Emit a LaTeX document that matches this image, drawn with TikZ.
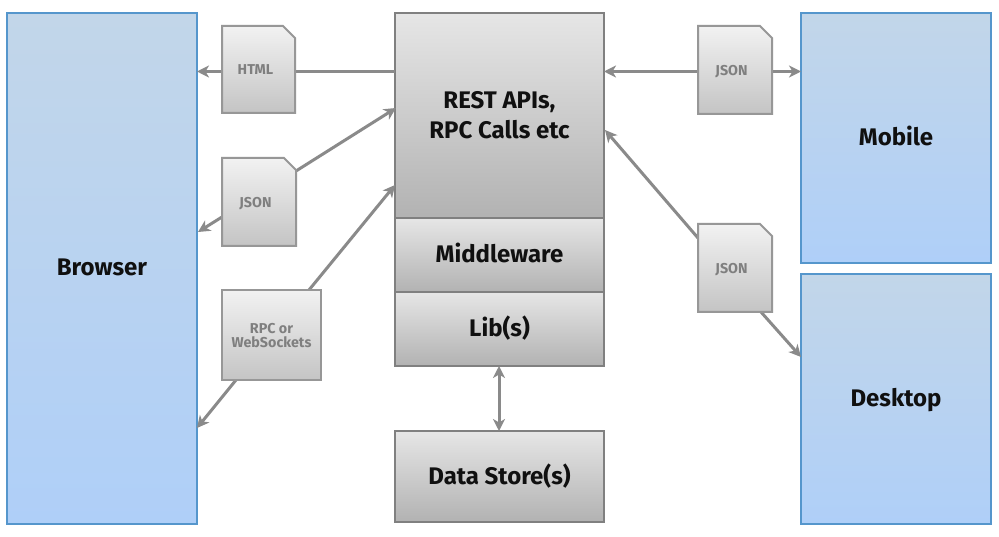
\documentclass[tikz,border=0pt]{standalone}
\usepackage{fontspec}
\setmainfont{Fira Sans}[BoldFont={Fira Sans Bold}]
\usetikzlibrary{arrows.meta}
\definecolor{arrowgray}{HTML}{8A8A8A}
\definecolor{boxedge}{HTML}{808080}
\definecolor{docedge}{HTML}{979797}
\definecolor{blueedge}{HTML}{5596CC}
\definecolor{doctext}{HTML}{7F7F7F}
\definecolor{inktext}{HTML}{101010}
\tikzset{
  panel/.style={rectangle,draw=blueedge,line width=2pt,
    top color={rgb,255:red,194;green,214;blue,233},bottom color={rgb,255:red,175;green,207;blue,248},
    minimum width=#1,inner sep=0pt,outer sep=0pt,font=\fontsize{24}{30}\selectfont\bfseries,text=inktext,align=center},
  tier/.style={rectangle,draw=boxedge,line width=2pt,
    top color={rgb,255:red,230;green,230;blue,230},bottom color={rgb,255:red,178;green,178;blue,178},
    minimum width=209pt,inner sep=0pt,outer sep=0pt,font=\fontsize{24}{30}\selectfont\bfseries,text=inktext,align=center},
  oneline/.style={text height=15pt,text depth=0pt},
  docbase/.style={draw=docedge,line width=2pt,
    top color={rgb,255:red,242;green,242;blue,242},bottom color={rgb,255:red,196;green,196;blue,196},
    inner sep=0pt,outer sep=0pt},
  docanchor/.style={rectangle,inner sep=0pt,outer sep=0pt},
  rpcbox/.style={docbase,rectangle},
  doclabel/.style={font=\fontsize{14.3}{14.5}\selectfont\bfseries,text=doctext,inner sep=0pt,align=center},
  docword/.style={doclabel,text height=10pt,text depth=0pt},
  link/.style={draw=arrowgray,line width=3pt},
  linkhead/.style={link,-{Stealth[length=12pt,width=12pt,inset=3.5pt]}},
  linkboth/.style={link,{Stealth[length=12pt,width=12pt,inset=3.5pt]}-{Stealth[length=12pt,width=12pt,inset=3.5pt]}}
}
\newcommand{\docsheet}[1]{\path[docbase] (#1.north west) -- ([xshift=-12pt]#1.north east) -- ([yshift=-12pt]#1.north east) -- (#1.south east) -- (#1.south west) -- cycle;}
\begin{document}
\begin{tikzpicture}[x=1pt,y=-1pt]
\useasboundingbox (0,0) rectangle (999,537);
\fill[white] (0,0) rectangle (999,537);
% ports on the borders of the panels and tiers
\coordinate (pHtmlB) at (197,71.5);
\coordinate (pHtmlR) at (395,71.5);
\coordinate (pJsonB) at (198,232);
\coordinate (pJsonR) at (396,108);
\coordinate (pJsonA) at (296,171);
\coordinate (pJsonC) at (222,217);
\coordinate (pRpcB) at (197,428);
\coordinate (pRpcR) at (395,185);
\coordinate (pRpcA) at (309,290);
\coordinate (pRpcC) at (236,380);
\coordinate (pMobL) at (604,71.5);
\coordinate (pMobR) at (801,71.5);
\coordinate (pMobC) at (730,71.5);
\coordinate (pDeskL) at (605,130);
\coordinate (pDeskR) at (801,357);
\coordinate (pDeskA) at (698,238);
\coordinate (pDeskC) at (761,312);
\coordinate (pLibS) at (499,366);
\coordinate (pStoreN) at (499,431);
% panels
\node[panel=190pt,oneline,minimum height=511pt] (browser) at (102,268.5) {Browser};
\node[panel=190pt,oneline,minimum height=250pt] (mobile) at (896,138) {Mobile};
\node[panel=190pt,oneline,minimum height=250pt] (desktop) at (896,399) {Desktop};
% tiers
\node[tier,minimum height=205pt] (rest) at (499.5,115.5) {REST APIs,\\RPC Calls etc};
\node[tier,oneline,minimum height=74pt] (middle) at (499.5,255) {Middleware};
\node[tier,oneline,minimum height=74pt] (lib) at (499.5,329) {Lib(s)};
\node[tier,oneline,minimum height=91pt] (store) at (499.5,476.5) {Data Store(s)};
% connectors
\draw[linkhead] (pHtmlR) -- (pHtmlB);
\draw[linkhead] (pJsonA) -- (pJsonR);
\draw[linkhead] (pJsonC) -- (pJsonB);
\draw[linkhead] (pRpcA) -- (pRpcR);
\draw[linkhead] (pRpcC) -- (pRpcB);
\draw[linkhead] (pMobC) -- (pMobL);
\draw[linkhead] (pMobC) -- (pMobR);
\draw[linkhead] (pDeskA) -- (pDeskL);
\draw[linkhead] (pDeskC) -- (pDeskR);
\draw[linkboth] (pLibS) -- (pStoreN);
% documents
\node[docanchor,minimum width=73pt,minimum height=87pt] (dhtml) at (258.5,69.5) {};
\docsheet{dhtml}
\node[docword] (lhtml) at (255.5,70) {HTML};
\node[docanchor,minimum width=74pt,minimum height=88pt] (djson) at (259,202) {};
\docsheet{djson}
\node[docword] (ljson) at (255.5,203) {JSON};
\node[rpcbox,minimum width=99pt,minimum height=90pt] (drpc) at (271.5,335) {};
\node[doclabel] (lrpc) at (271.5,335.5) {RPC or\\WebSockets};
\node[docanchor,minimum width=74pt,minimum height=88pt] (dmob) at (735,70) {};
\docsheet{dmob}
\node[docword] (lmob) at (731.5,71) {JSON};
\node[docanchor,minimum width=74pt,minimum height=88pt] (ddesk) at (735,268) {};
\docsheet{ddesk}
\node[docword] (ldesk) at (731.5,269) {JSON};
\end{tikzpicture}
\end{document}
